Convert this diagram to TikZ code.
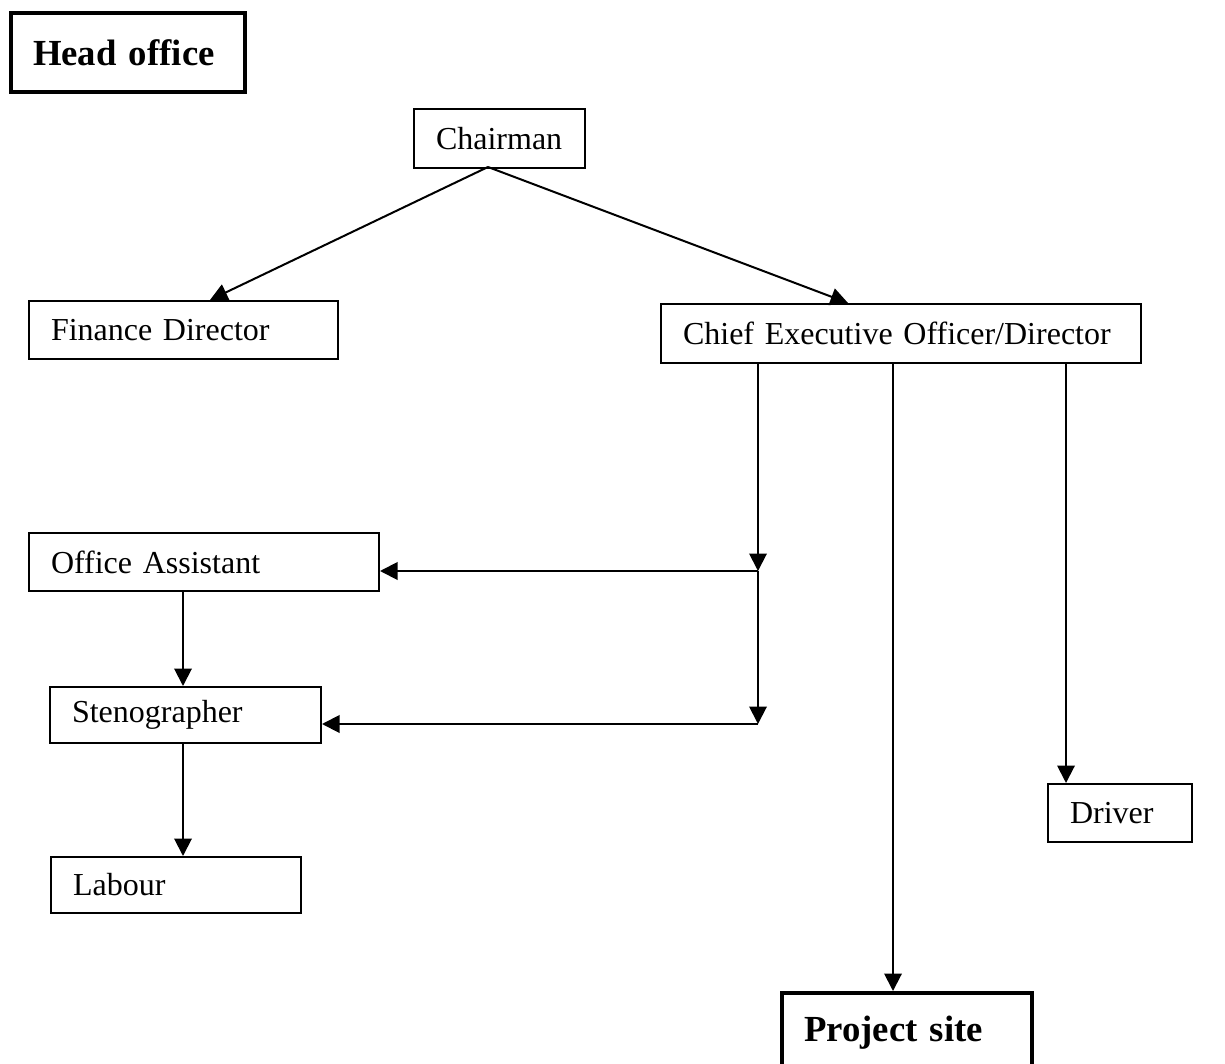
\documentclass[tikz,border=0pt]{standalone}
\usepackage{fontspec}
\setmainfont{Liberation Serif}
\usetikzlibrary{arrows.meta}

\tikzset{orgbox/.style={draw,line width=0.8pt,anchor=north west,align=left,inner xsep=8.8pt,inner ysep=0pt,font=\fontsize{12.8}{15}\selectfont},
bigbox/.style={draw,line width=1.6pt,anchor=north west,align=left,inner xsep=8.8pt,inner ysep=0pt,font=\fontsize{14.7}{17}\selectfont\bfseries},
arr/.style={line width=0.8pt,-{Triangle[length=7pt,width=7pt]}}}

\begin{document}
\begin{tikzpicture}[x=0.4pt,y=-0.4pt]
\clip (0,0) rectangle (1225,1064);
\node[bigbox,text width=76pt,minimum height=31.6pt] (head) at (9,11) {Head office};
\node[orgbox,text width=50.8pt,minimum height=23.6pt] (chair) at (413,108) {Chairman};
\node[orgbox,text width=106pt,minimum height=23.2pt] (fin) at (28,300) {Finance Director};
\node[orgbox,text width=174.4pt,minimum height=23.6pt] (ceo) at (660,303) {Chief Executive Officer/Director};
\node[orgbox,text width=122.4pt,minimum height=23.2pt] (offa) at (28,532) {Office Assistant};
\node[orgbox,text width=90.8pt,minimum height=22.4pt] (steno) at (49,686) {Stenographer};
\node[orgbox,text width=82.4pt,minimum height=22.4pt] (lab) at (50,856) {Labour};
\node[orgbox,text width=40pt,minimum height=23.2pt] (drv) at (1047,783) {Driver};
\node[bigbox,text width=82.4pt,minimum height=32pt] (proj) at (780,991) {Project site};
% junctions
\coordinate (ch) at (488,167);
\coordinate (finin) at (210,300);
\coordinate (ceoin) at (848,303);
\coordinate (j1) at (758,571);
\coordinate (j2) at (758,724);
\coordinate (ps) at (893,991);
\coordinate (dv) at (1066,783);
\coordinate (sin) at (183,686);
\coordinate (lin) at (183,856);
\draw[arr] (ch) -- (finin);
\draw[arr] (ch) -- (ceoin);
\draw[arr] (ceo.south -| j1) -- (j1);
\draw[arr] (j1) -- (j2);
\draw[arr] (j1) -- (offa.east |- j1);
\draw[arr] (j2) -- (steno.east |- j2);
\draw[arr] (ceo.south -| ps) -- (ps);
\draw[arr] (ceo.south -| dv) -- (dv);
\draw[arr] (offa.south -| sin) -- (sin);
\draw[arr] (steno.south -| lin) -- (lin);
\end{tikzpicture}
\end{document}
